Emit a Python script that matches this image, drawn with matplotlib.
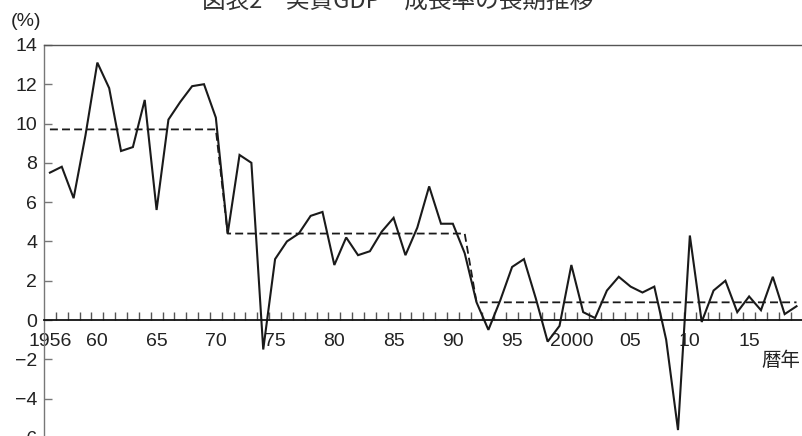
import numpy as np
import matplotlib
matplotlib.use('Agg')
import matplotlib.pyplot as plt

plt.rcParams['font.family'] = ['Liberation Sans', 'Noto Sans CJK JP']

# Real GDP growth rate (%), calendar years 1956-2019
years = list(range(1956, 2020))
growth = [7.5, 7.8, 6.2, 9.4, 13.1, 11.8, 8.6, 8.8, 11.2, 5.6,
          10.2, 11.1, 11.9, 12.0, 10.3, 4.4, 8.4, 8.0, -1.5, 3.1,
          4.0, 4.4, 5.3, 5.5, 2.8, 4.2, 3.3, 3.5, 4.5, 5.2,
          3.3, 4.7, 6.8, 4.9, 4.9, 3.4, 0.9, -0.5, 1.0, 2.7,
          3.1, 1.1, -1.1, -0.3, 2.8, 0.4, 0.1, 1.5, 2.2, 1.7,
          1.4, 1.7, -1.0, -5.6, 4.3, -0.1, 1.5, 2.0, 0.4, 1.2,
          0.5, 2.2, 0.3, 0.7]

# period averages (dashed line)
avg_periods = [(1956, 1970), (1971, 1991), (1992, 2019)]
avg_values = [9.7, 4.4, 0.9]

xtick_pos = [1956, 1960, 1965, 1970, 1975, 1980, 1985, 1990, 1995, 2000, 2005, 2010, 2015]
xtick_labels = ['1956', '60', '65', '70', '75', '80', '85', '90', '95', '2000', '05', '10', '15']
yticks = [-6, -4, -2, 0, 2, 4, 6, 8, 10, 12, 14]

avg_x = []
avg_y = []
for (s, e), v in zip(avg_periods, avg_values):
    for yr in range(s, e + 1):
        avg_x.append(yr)
        avg_y.append(v)

fig = plt.figure(figsize=(8.03, 4.36), dpi=100)
ax = fig.add_axes([0.0548, -0.0044, 0.9445, 0.9014])

ax.plot(years, growth, color='#1a1a1a', lw=1.5, solid_joinstyle='miter', zorder=2)
ax.plot(avg_x, avg_y, color='#1a1a1a', lw=1.3, dashes=(4.4, 2.3), zorder=2)

ax.set_xlim(1955.5, 2019.5)
ax.set_ylim(-6, 14)

ax.spines['right'].set_visible(False)
ax.spines['bottom'].set_position(('data', 0))
ax.spines['bottom'].set_color('#111111')
ax.spines['bottom'].set_linewidth(1.3)
ax.spines['left'].set_color('#777777')
ax.spines['left'].set_linewidth(1.0)
ax.spines['top'].set_color('#555555')
ax.spines['top'].set_linewidth(1.0)

# year boundary ticks on the zero line, labels at mid-year
ax.set_xticks(np.arange(1956.5, 2019, 1.0))
ax.set_xticklabels([])
ax.tick_params(axis='x', which='major', direction='in', length=6, width=1.0, color='#555555')
ax.set_xticks(xtick_pos, minor=True)
ax.set_xticklabels(xtick_labels, minor=True)
ax.tick_params(axis='x', which='minor', length=0, pad=9, labelsize=14, labelcolor='#222222')
for lab in ax.get_xticklabels(minor=True):
    lab.set_bbox(dict(facecolor='white', edgecolor='none', pad=0.5))

ax.set_yticks(yticks)
ax.set_yticklabels([('\u2212' + str(-v)) if v < 0 else str(v) for v in yticks])
ax.tick_params(axis='y', direction='in', length=6, width=1.0, color='#777777', pad=5,
               labelsize=14, labelcolor='#222222')

fig.text(397.5 / 803, 1 - 8 / 436, '図表2　実質GDP　成長率の長期推移', ha='center', va='baseline',
         fontsize=17, color='#333333', family=['Noto Sans CJK JP'])
fig.text(26 / 803, 1 - 21 / 436, '(%)', ha='center', va='center', fontsize=14, color='#222222')
fig.text(800 / 803, 1 - 360 / 436, '暦年', ha='right', va='center', fontsize=14,
         color='#222222', family=['Noto Sans CJK JP'])

fig.savefig('out.png', dpi=100)
